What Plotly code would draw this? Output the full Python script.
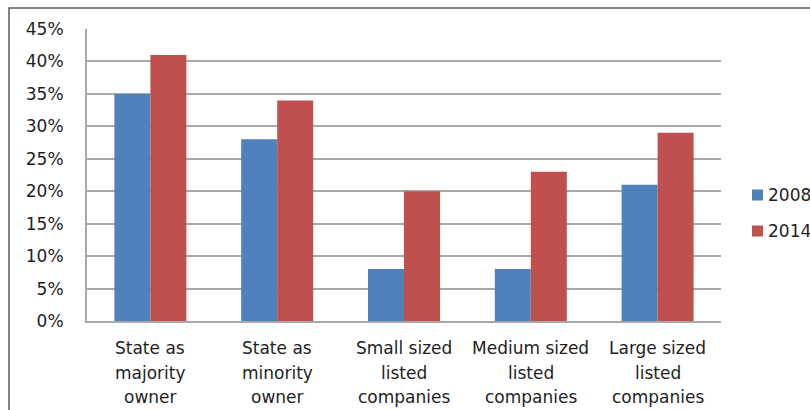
import plotly.graph_objects as go

# Share of companies by ownership / size class
categories = ["State as majority owner", "State as minority owner",
              "Small sized listed companies", "Medium sized listed companies",
              "Large sized listed companies"]
label_lines = [["State as", "majority", "owner"],
               ["State as", "minority", "owner"],
               ["Small sized", "listed", "companies"],
               ["Medium sized", "listed", "companies"],
               ["Large sized", "listed", "companies"]]
series_names = ["2008", "2014"]
values_2008 = [35, 28, 8, 8, 21]
values_2014 = [41, 34, 20, 23, 29]
y_ticks = [0, 5, 10, 15, 20, 25, 30, 35, 40, 45]
y_tick_labels = [f"{v}%" for v in y_ticks]

colors = ["#4F81BD", "#C0504D"]
font_family = "DejaVu Sans"
font_size = 17
text_color = "#1e1e1e"
grid_color = "#a8a8a8"

W, H = 810, 410
L, R, T, B = 87, 89, 29, 89
pw, ph = W - L - R, H - T - B

fig = go.Figure()
for name, vals, col in zip(series_names, [values_2008, values_2014], colors):
    fig.add_trace(go.Bar(x=categories, y=vals, name=name,
                         marker=dict(color=col, line=dict(width=0)),
                         showlegend=False))

annotations = []
# multi-line category labels under the axis
offsets = [27, 51.5, 76]
for cat, lines in zip(categories, label_lines):
    for line, off in zip(lines, offsets):
        annotations.append(dict(x=cat, y=0, xref="x", yref="paper",
                                text=line, showarrow=False,
                                yanchor="middle", xanchor="center",
                                yshift=-off,
                                font=dict(family=font_family, size=font_size, color=text_color)))

shapes = []
# legend: colored squares with series names
leg_y = [195, 231]
for name, col, cy in zip(series_names, colors, leg_y):
    x0 = (752 - L) / pw
    x1 = (763 - L) / pw
    y0 = (H - B - (cy + 5.5)) / ph
    y1 = (H - B - (cy - 5.5)) / ph
    shapes.append(dict(type="rect", xref="paper", yref="paper",
                       x0=x0, x1=x1, y0=y0, y1=y1,
                       fillcolor=col, line=dict(width=0)))
    annotations.append(dict(x=(766 - L) / pw, y=(H - B - cy) / ph,
                            xref="paper", yref="paper", text=name,
                            showarrow=False, xanchor="left", yanchor="middle",
                            font=dict(family=font_family, size=font_size, color=text_color)))

# outer chart frame
shapes.append(dict(type="rect", xref="paper", yref="paper",
                   x0=(9 - L) / pw, x1=(830 - L) / pw,
                   y0=(H - B - 430) / ph, y1=(H - B - 8) / ph,
                   line=dict(color="#5a5a5a", width=1.5),
                   fillcolor="rgba(0,0,0,0)", layer="above"))

fig.update_layout(
    width=W, height=H,
    margin=dict(l=L, r=R, t=T, b=B, pad=0),
    paper_bgcolor="white", plot_bgcolor="white",
    barmode="group", bargap=0.432, bargroupgap=0,
    font=dict(family=font_family, size=font_size, color=text_color),
    xaxis=dict(showticklabels=False, showgrid=False, zeroline=False,
               showline=True, linecolor=grid_color, linewidth=2, ticks=""),
    yaxis=dict(range=[0, 45], tickvals=y_ticks, ticktext=y_tick_labels,
               showgrid=True, gridcolor=grid_color, gridwidth=1.5,
               zeroline=False, showline=True, linecolor=grid_color, linewidth=2,
               ticks="", ticklabelstandoff=18,
               tickfont=dict(family=font_family, size=font_size, color=text_color)),
    annotations=annotations, shapes=shapes,
)

fig.write_html("out.html")
